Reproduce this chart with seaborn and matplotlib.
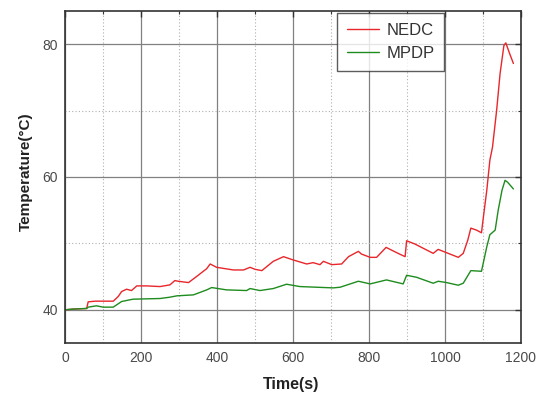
import numpy as np
import pandas as pd
import matplotlib
matplotlib.use("Agg")
import matplotlib.pyplot as plt
from matplotlib.ticker import MultipleLocator
import seaborn as sns

# ---- data ----
nedc_time = [0, 20, 57, 61, 80, 127, 140, 149, 162, 175, 189, 215, 250, 276, 289, 298,
             325, 346, 373, 382, 399, 443, 470, 487, 500, 518, 548, 575, 601, 636, 653,
             671, 680, 702, 728, 746, 772, 780, 803, 820, 845, 873, 895, 899, 921, 969,
             982, 1004, 1035, 1048, 1060, 1068, 1083, 1096, 1100, 1110, 1118, 1125, 1136,
             1145, 1155, 1160, 1170, 1180]
nedc_temp = [40.0, 40.1, 40.2, 41.2, 41.3, 41.3, 42.0, 42.75, 43.1, 42.9, 43.6, 43.6, 43.5,
             43.75, 44.4, 44.3, 44.1, 45.0, 46.2, 46.9, 46.4, 46.0, 46.0, 46.4, 46.1, 45.9,
             47.3, 48.0, 47.5, 46.9, 47.1, 46.8, 47.3, 46.8, 46.9, 48.0, 48.8, 48.4, 47.9,
             47.9, 49.4, 48.6, 48.0, 50.4, 49.9, 48.5, 49.1, 48.6, 47.9, 48.5, 50.5, 52.3,
             52.0, 51.6, 53.5, 58.0, 62.5, 64.5, 70.1, 75.6, 79.8, 80.2, 78.6, 77.1]

mpdp_time = [0, 20, 57, 61, 83, 100, 127, 149, 179, 250, 276, 294, 338, 373, 386, 425,
             478, 487, 513, 548, 583, 618, 662, 706, 724, 772, 803, 846, 890, 899, 925,
             969, 982, 1004, 1035, 1048, 1068, 1096, 1110, 1118, 1132, 1140, 1150, 1158,
             1165, 1180]
mpdp_temp = [40.0, 40.1, 40.2, 40.4, 40.6, 40.4, 40.4, 41.25, 41.6, 41.7, 41.9, 42.1,
             42.25, 43.0, 43.35, 43.0, 42.9, 43.2, 42.9, 43.2, 43.85, 43.5, 43.4, 43.3,
             43.4, 44.3, 43.9, 44.5, 43.9, 45.2, 44.9, 44.0, 44.3, 44.1, 43.7, 44.0, 45.9,
             45.8, 49.5, 51.3, 52.0, 55.0, 58.0, 59.5, 59.2, 58.2]

series_names = ["NEDC", "MPDP"]
series_colors = ["#e8262b", "#1e8c1e"]
x_ticks = [0, 200, 400, 600, 800, 1000, 1200]
y_ticks = [40, 60, 80]

df = pd.concat([
    pd.DataFrame({"Time": nedc_time, "Temp": nedc_temp, "Cycle": series_names[0]}),
    pd.DataFrame({"Time": mpdp_time, "Temp": mpdp_temp, "Cycle": series_names[1]}),
], ignore_index=True)

sns.set_style("white")
plt.rcParams["font.family"] = ["Liberation Sans", "DejaVu Sans"]

fig = plt.figure(figsize=(5.42, 3.98), dpi=100)
ax = fig.add_axes([65/542, 1-343/398, 456/542, 332/398])

sns.lineplot(data=df, x="Time", y="Temp", hue="Cycle", hue_order=series_names,
             palette=series_colors, estimator=None, sort=False, linewidth=1.0, ax=ax)

ax.set_xlim(0, 1200)
ax.set_ylim(35, 85)
ax.set_xticks(x_ticks)
ax.set_yticks(y_ticks)
ax.xaxis.set_minor_locator(MultipleLocator(100))
ax.yaxis.set_minor_locator(MultipleLocator(10))

ax.grid(which="major", color="#808080", linestyle="-", linewidth=0.9)
ax.grid(which="minor", color="#b0b0b0", linestyle=(0, (1, 2)), linewidth=0.8)
ax.set_axisbelow(True)

for s in ax.spines.values():
    s.set_color("#333333")
    s.set_linewidth(1.2)

ax.tick_params(which="both", direction="in", top=True, right=True, colors="#333333",
               labelcolor="#4a4a4a", labelsize=10)
ax.tick_params(which="major", length=4, width=1)
ax.tick_params(which="minor", length=2.5, width=0.8)
ax.tick_params(axis="x", pad=6)
ax.tick_params(axis="y", pad=5)

ax.set_xlabel("Time(s)", fontsize=11.5, fontweight="bold", color="#222222", va="center")
ax.set_ylabel("Temperature(°C)", fontsize=11, fontweight="bold", color="#222222", va="center")
ax.xaxis.set_label_coords((291-65)/456, (343-385)/332)
ax.yaxis.set_label_coords((26-65)/456, (343-172)/332)

leg = ax.legend(loc="upper left", bbox_to_anchor=(337/542, 1-13/398),
                bbox_transform=fig.transFigure, fontsize=12, frameon=True,
                fancybox=False, handlelength=1.9, handletextpad=0.45,
                labelspacing=0.45, borderpad=0.6, borderaxespad=0)
leg.get_frame().set_edgecolor("#333333")
leg.get_frame().set_linewidth(1.0)
for t in leg.get_texts():
    t.set_color("#333333")

fig.savefig("out.png", dpi=100, facecolor="white")
